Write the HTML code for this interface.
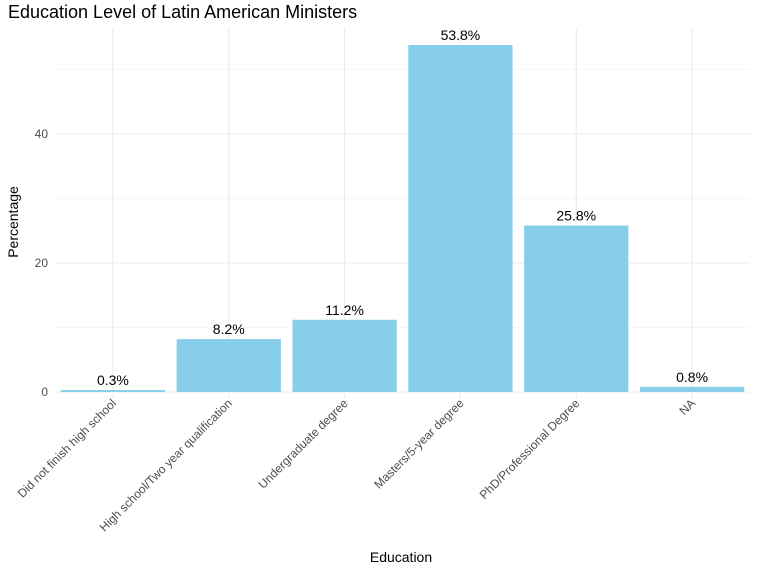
<!DOCTYPE html>
<html><head><meta charset="utf-8"><style>body{margin:0;background:#fff}svg{display:block;font-family:"Liberation Sans",Arial,sans-serif}</style></head>
<body>
<svg id="chart" width="768" height="571" viewBox="0 0 768 571">
<text x="8" y="18" font-size="18" fill="#000">Education Level of Latin American Ministers</text>
<g id="grid"></g><g id="bars"></g><g id="labels"></g><g id="ticks"></g>
<text x="401" y="562" font-size="14" text-anchor="middle" fill="#000">Education</text>
<text transform="translate(18,222) rotate(-90)" font-size="14" text-anchor="middle" fill="#000">Percentage</text>
</svg>
<script>
const categories=["Did not finish high school","High school/Two year qualification","Undergraduate degree","Masters/5-year degree","PhD/Professional Degree","NA"];
const values=[0.3,8.2,11.2,53.8,25.8,0.8];
const valueLabels=["0.3%","8.2%","11.2%","53.8%","25.8%","0.8%"];
const yTicks=[0,20,40];
const yMinor=[10,30,50];
const NS="http://www.w3.org/2000/svg";
const px0=55,px1=750,pt=28,y0=392,scale=(392-134)/40;
const band=(px1-px0)/categories.length;
const xs=i=>px0+band*(i+0.5);
const ys=v=>y0-v*scale;
function mk(t,a,p){const e=document.createElementNS(NS,t);for(const k in a)e.setAttribute(k,a[k]);document.getElementById(p).appendChild(e);return e;}
yMinor.forEach(v=>{const l=mk('line',{x1:px0,x2:px1,y1:ys(v),y2:ys(v),stroke:'#f3f3f3','stroke-width':0.7},'grid');

});
yTicks.forEach(v=>{const l=mk('line',{x1:px0,x2:px1,y1:ys(v),y2:ys(v),stroke:'#ebebeb','stroke-width':1.1},'grid');


const t=mk('text',{x:48,y:ys(v)+4,'font-size':12,'text-anchor':'end',fill:'#4d4d4d'},'ticks');t.textContent=v;

});
categories.forEach((c,i)=>{const l=mk('line',{x1:xs(i),x2:xs(i),y1:pt,y2:398,stroke:'#ebebeb','stroke-width':1.1},'grid');


const bw=band*0.9;
const r=mk('rect',{x:xs(i)-bw/2,y:ys(values[i]),width:bw,height:values[i]*scale,fill:'#87ceeb'},'bars');


const vt=mk('text',{x:xs(i),y:ys(values[i])-5,'font-size':14,'text-anchor':'middle',fill:'#000'},'labels');vt.textContent=valueLabels[i];


const tt=mk('text',{transform:`translate(${xs(i)+4},404) rotate(-45)`,'font-size':12,'text-anchor':'end',fill:'#4d4d4d'},'ticks');tt.textContent=c;

});
</script>
</body></html>
